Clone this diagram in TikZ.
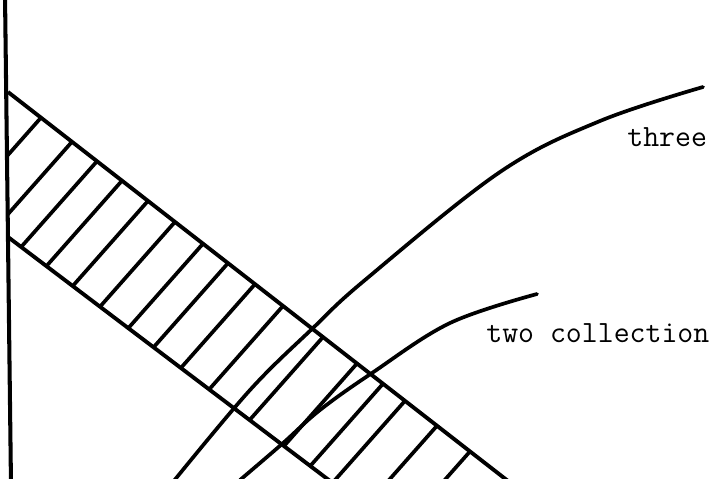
\documentclass[tikz,border=0pt]{standalone}
\usepackage{tikz}
\tikzset{
  axisline/.style={line width=2.3pt, line cap=round},
  bandline/.style={line width=2.2pt},
  hatchline/.style={line width=2.1pt},
  curveline/.style={line width=2.1pt, line cap=round},
  curvelabel/.style={font=\ttfamily\fontsize{17.6}{21}\selectfont, inner sep=0pt, anchor=base west},
}
\begin{document}
\begin{tikzpicture}[x=0.02cm, y=-0.02cm]
  \clip (0,0) rectangle (709,478);
  % vertical axis
  \draw[axisline] (5,-5) -- (11,485);
  % hatching inside the band
  \begin{scope}
    \clip (8,92) -- (519.6,490) -- (342,490) -- (8,237) -- cycle;
    \foreach \xu in {41,72,97,122,148,175,203,228,255,283,323,357,383,405,437,470} {
      \draw[hatchline] (\xu+15,{92+0.778*(\xu-8)-17}) -- ++(-130,147);
    }
  \end{scope}
  % band edges
  \draw[bandline] (8,92) -- (519.6,490);
  \draw[bandline] (8,237) -- (342,490);
  % curves
  \draw[curveline] plot[smooth, tension=0.6] coordinates
    {(173,482) (250,390) (313,328) (365,280) (500,172) (600,121) (703,87)};
  \draw[curveline] plot[smooth, tension=0.6] coordinates
    {(240,480) (282,444) (320,410) (372,373) (450,323) (537,294)};
  % labels
  \node[curvelabel] (three) at (627,146) {three};
  \node[curvelabel] (twocoll) at (486,342) {two collection};
\end{tikzpicture}
\end{document}
